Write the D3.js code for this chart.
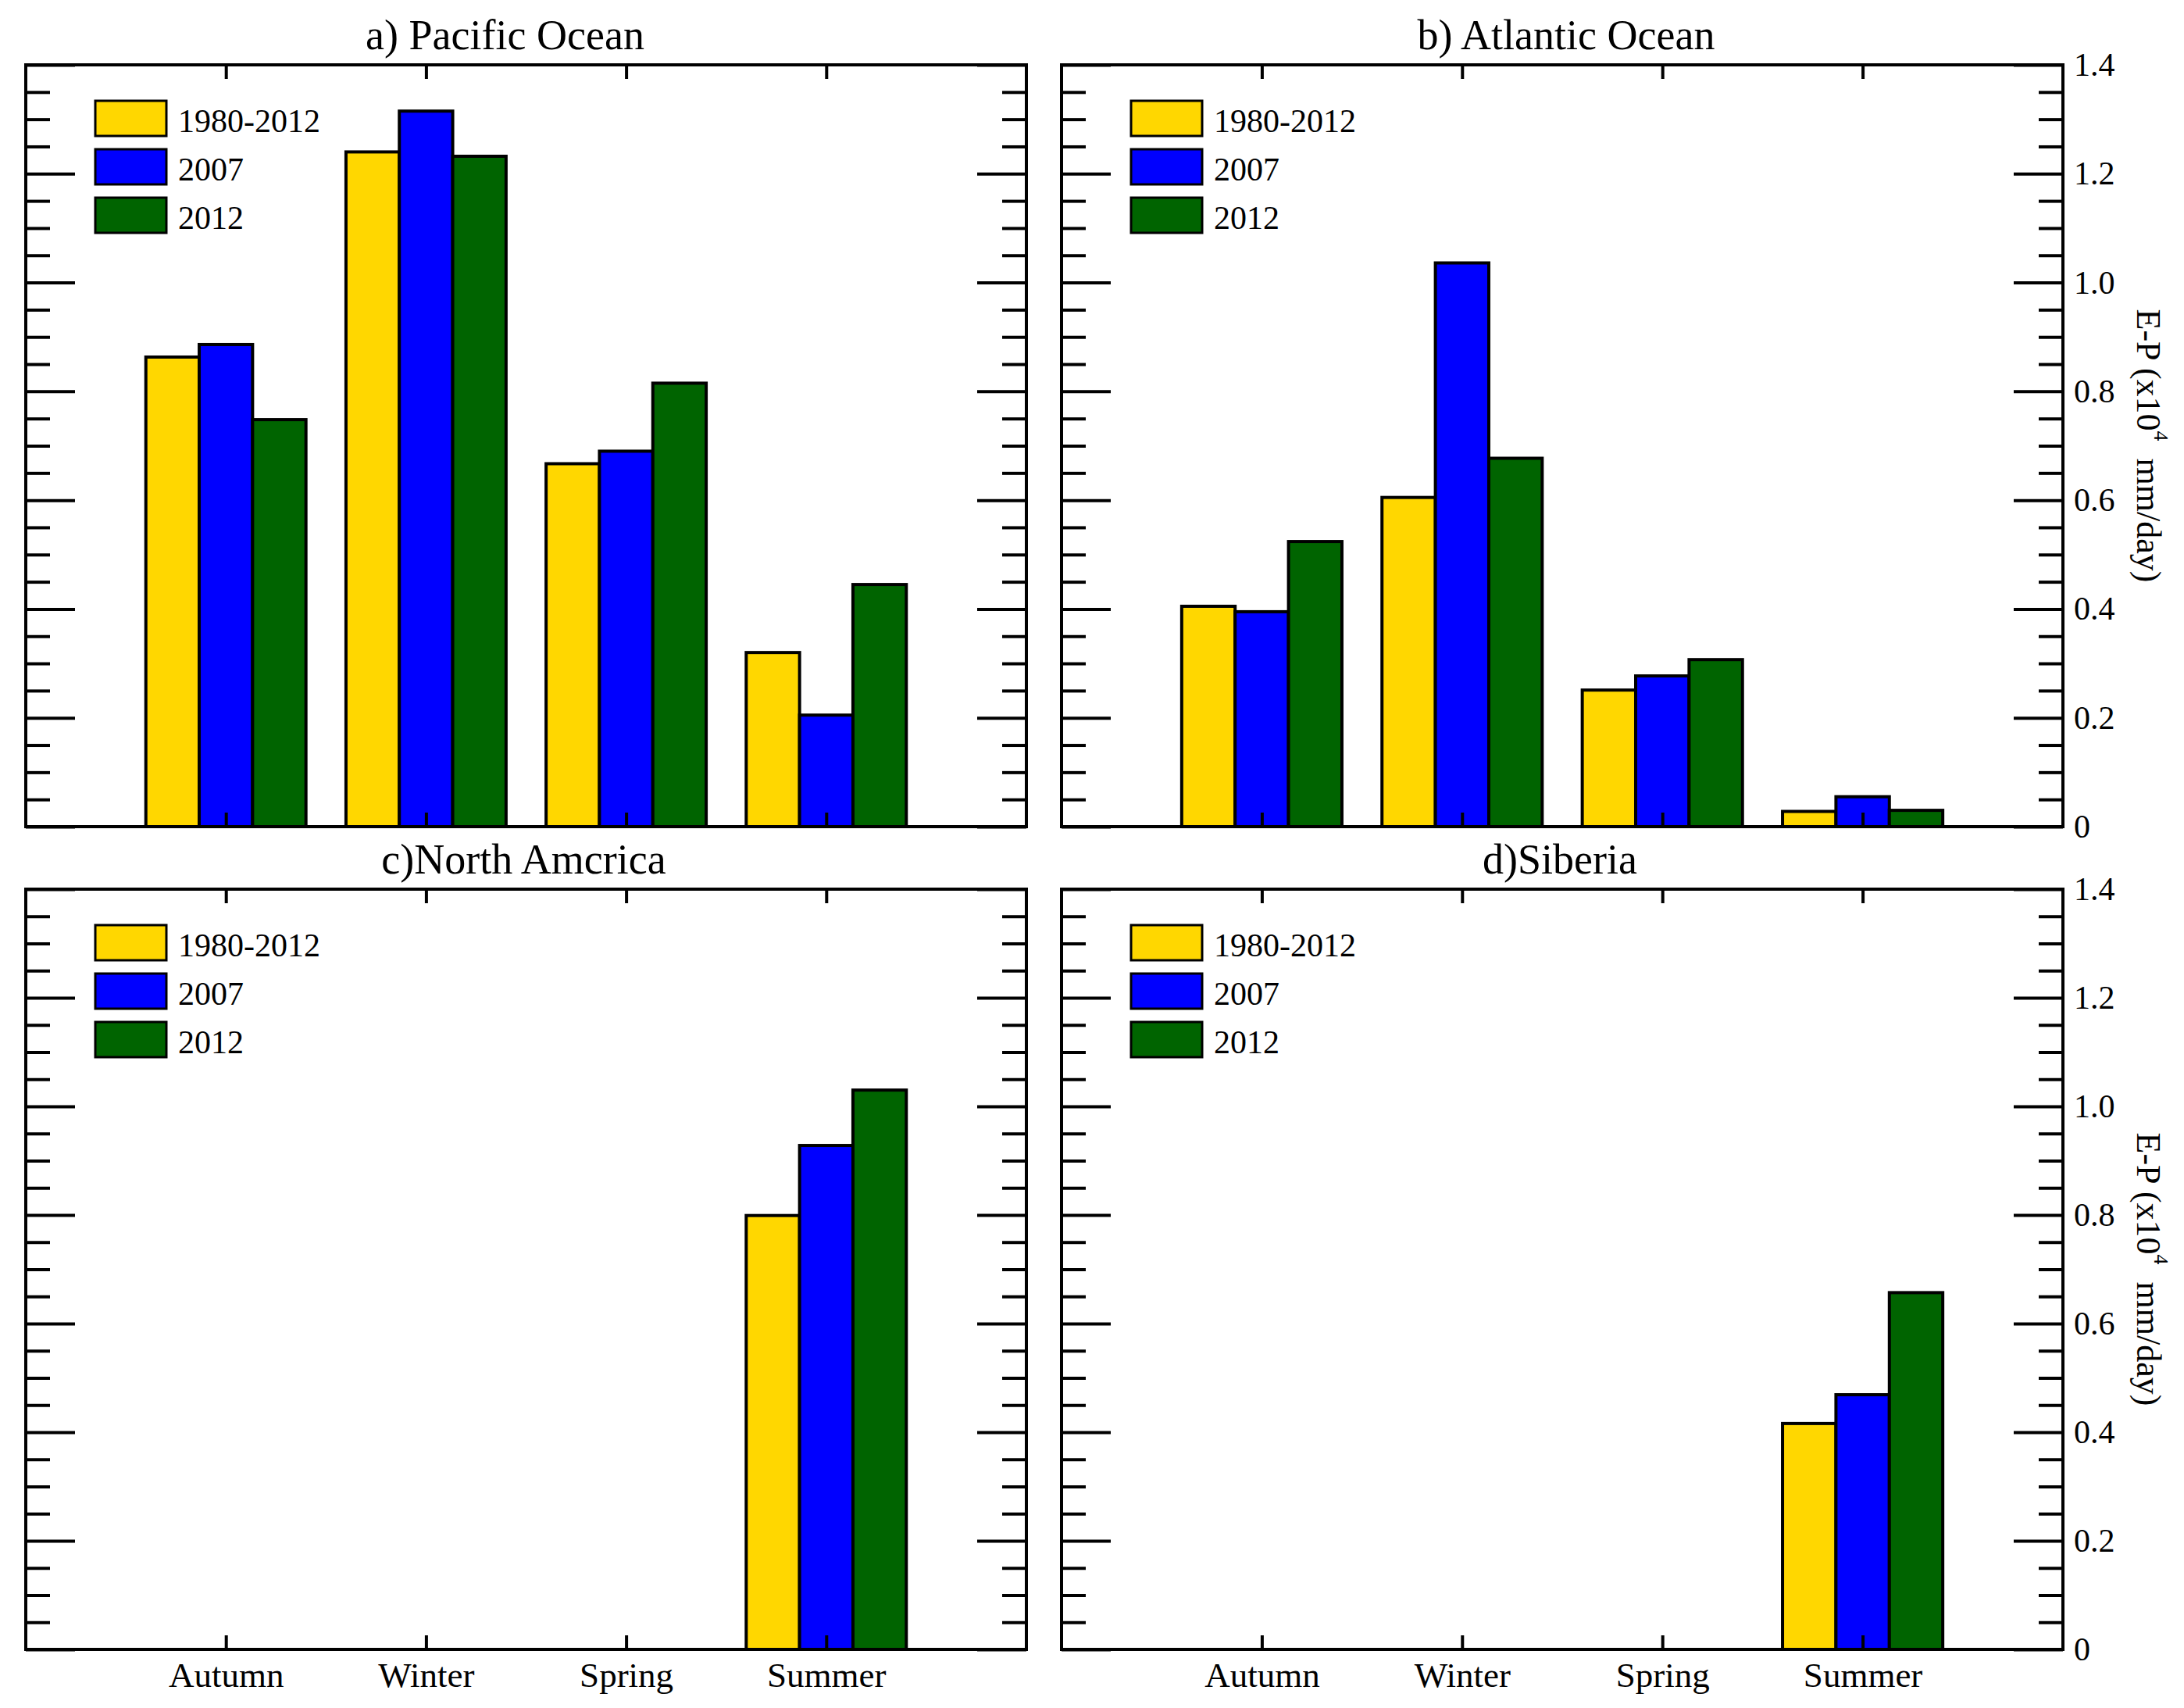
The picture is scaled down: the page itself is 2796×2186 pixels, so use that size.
<!DOCTYPE html>
<html>
<head>
<meta charset="utf-8">
<script src="https://cdn.jsdelivr.net/npm/d3@7"></script>
<style>
  body { margin: 0; background: #fff; }
  svg text { font-family: "Liberation Serif", "Times New Roman", serif; fill: #000; }
</style>
</head>
<body>
<div id="chart"></div>
<script>
// Données (E-P, x10^4 mm/day)
const seasons = ["Autumn", "Winter", "Spring", "Summer"];
const series = ["1980-2012", "2007", "2012"];
const titles = ["a) Pacific Ocean", "b) Atlantic Ocean", "c)North Amcrica", "d)Siberia"];

const pacific1980 = [0.863, 1.240, 0.667, 0.320];
const pacific2007 = [0.886, 1.315, 0.690, 0.205];
const pacific2012 = [0.748, 1.232, 0.815, 0.445];

const atlantic1980 = [0.405, 0.605, 0.251, 0.028];
const atlantic2007 = [0.395, 1.036, 0.277, 0.055];
const atlantic2012 = [0.524, 0.677, 0.307, 0.030];

const namerica1980 = [0, 0, 0, 0.799];
const namerica2007 = [0, 0, 0, 0.928];
const namerica2012 = [0, 0, 0, 1.030];

const siberia1980 = [0, 0, 0, 0.416];
const siberia2007 = [0, 0, 0, 0.469];
const siberia2012 = [0, 0, 0, 0.657];

const yTicks = [0, 0.2, 0.4, 0.6, 0.8, 1.0, 1.2, 1.4];
const yTickLabels = ["0", "0.2", "0.4", "0.6", "0.8", "1.0", "1.2", "1.4"];

const panelValues = [
    [pacific1980, pacific2007, pacific2012],
    [atlantic1980, atlantic2007, atlantic2012],
    [namerica1980, namerica2007, namerica2012],
    [siberia1980, siberia2007, siberia2012]
];

// Couleurs et mise en page
const color = d3.scaleOrdinal().domain(series).range(["#FFD700", "#0000FF", "#006400"]);
const cols = [[33, 1314], [1359, 2641]];
const rows = [[83, 1058], [1138, 2111]];
const titleShift = [-27, 5, -3, -3]; // petit décalage horizontal des titres

const svg = d3.select("#chart").append("svg")
    .attr("width", 2796)
    .attr("height", 2186);

// ticks mineurs tous les 0.05
const minorTicks = d3.range(0, 29).map(i => i * 0.05).filter((v, i) => i % 4 !== 0);

function styleTicks(sel, width) {
    sel.select(".domain").remove();
    sel.selectAll(".tick line").attr("stroke", "#000").attr("stroke-width", width);
    sel.attr("font-family", null).attr("font-size", null);
}

panelValues.forEach((values, i) => {
    const [x0, x1] = cols[i % 2];
    const [y0, y1] = rows[Math.floor(i / 2)];
    const isRight = i % 2 === 1;
    const isBottom = i >= 2;

    const g = svg.append("g");

    const x = d3.scalePoint().domain(seasons).range([x0, x1]).padding(1);
    const xs = d3.scaleBand().domain(series).range([-0.4 * x.step(), 0.4 * x.step()]);
    const y = d3.scaleLinear().domain([0, 1.4]).range([y1, y0]);

    const bars = seasons.flatMap((s, k) => series.map((se, j) => ({ season: s, series: se, value: values[j][k] })));

    // Barres
    g.append("g")
        .selectAll("rect")
        .data(bars.filter(d => d.value > 0))
        .join("rect")
        .attr("x", d => x(d.season) + xs(d.series))
        .attr("width", xs.bandwidth())
        .attr("y", d => y(d.value))
        .attr("height", d => y(0) - y(d.value))
        .attr("fill", d => color(d.series))
        .attr("stroke", "#000")
        .attr("stroke-width", 4);

    // Axes gauche
    g.append("g").attr("transform", `translate(${x0},0)`)
        .call(d3.axisLeft(y).tickValues(yTicks).tickSize(-63).tickFormat(""))
        .call(styleTicks, 4);
    g.append("g").attr("transform", `translate(${x0},0)`)
        .call(d3.axisLeft(y).tickValues(minorTicks).tickSize(-31).tickFormat(""))
        .call(styleTicks, 4);

    // Axes droite
    const right = g.append("g").attr("transform", `translate(${x1},0)`)
        .call(d3.axisRight(y).tickValues(yTicks).tickSize(-63).tickPadding(14)
            .tickFormat((d, k) => isRight ? yTickLabels[k] : ""))
        .call(styleTicks, 4);
    right.selectAll(".tick text").attr("font-size", 42);
    g.append("g").attr("transform", `translate(${x1},0)`)
        .call(d3.axisRight(y).tickValues(minorTicks).tickSize(-31).tickFormat(""))
        .call(styleTicks, 4);

    // Axes haut et bas
    g.append("g").attr("transform", `translate(0,${y0})`)
        .call(d3.axisTop(x).tickSize(-18).tickFormat(""))
        .call(styleTicks, 4);
    const bottom = g.append("g").attr("transform", `translate(0,${y1})`)
        .call(d3.axisBottom(x).tickSize(-18).tickPadding(16)
            .tickFormat(d => isBottom ? d : ""))
        .call(styleTicks, 4);
    bottom.selectAll(".tick text").attr("font-size", 45);

    // Cadre
    g.append("rect")
        .attr("x", x0).attr("y", y0)
        .attr("width", x1 - x0).attr("height", y1 - y0)
        .attr("fill", "none")
        .attr("stroke", "#000")
        .attr("stroke-width", 4);

    // Titre
    g.append("text")
        .attr("x", (x0 + x1) / 2 + titleShift[i])
        .attr("y", y0 - 20)
        .attr("text-anchor", "middle")
        .attr("font-size", 54)
        .text(titles[i]);

    // Légende
    const legend = g.append("g")
        .selectAll("g")
        .data(series)
        .join("g")
        .attr("transform", (d, j) => `translate(${x0 + 89},${y0 + 46 + 62 * j})`);
    legend.append("rect")
        .attr("width", 91).attr("height", 45)
        .attr("fill", d => color(d))
        .attr("stroke", "#000")
        .attr("stroke-width", 3);
    legend.append("text")
        .attr("x", 106)
        .attr("y", 40)
        .attr("font-size", 42)
        .text(d => d);

    // Titre de l'axe Y (panneaux de droite)
    if (isRight) {
        const cx = 2751, cy = (y0 + y1) / 2;
        const lab = g.append("text")
            .attr("x", cx).attr("y", cy)
            .attr("text-anchor", "middle")
            .attr("dominant-baseline", "central")
            .attr("font-size", 44)
            .attr("transform", `rotate(90,${cx},${cy})`);
        lab.append("tspan").text("E-P (x10");
        lab.append("tspan").attr("font-size", 26).attr("dy", -16).text("4");
        lab.append("tspan").attr("dy", 16).text("\u00a0 mm/day)");
    }
});
</script>
</body>
</html>
